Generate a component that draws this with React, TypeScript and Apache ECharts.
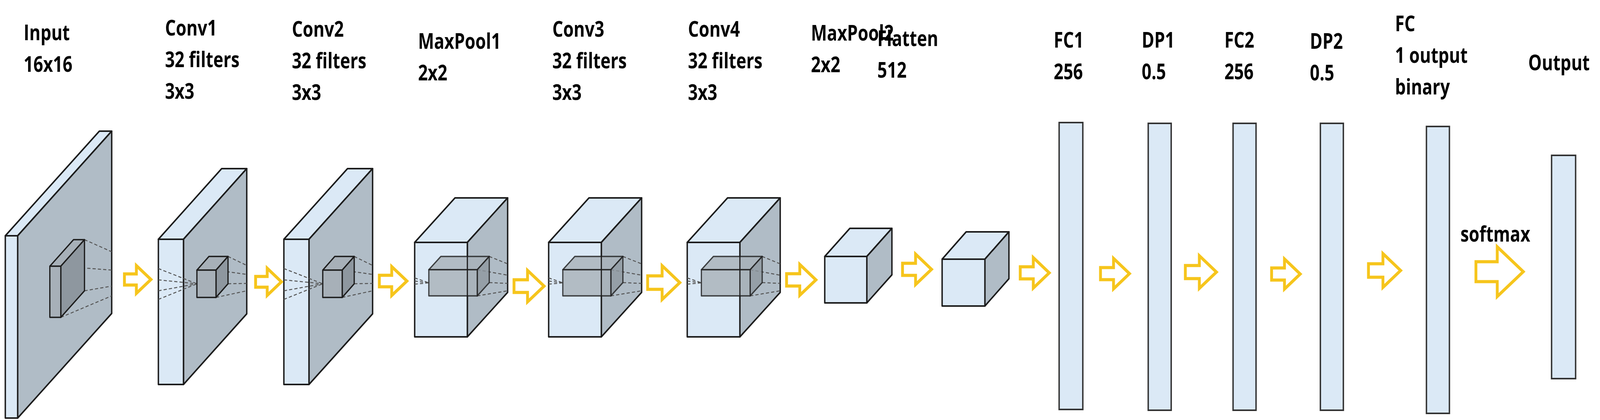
import React, { useEffect, useRef } from 'react';
import * as echarts from 'echarts';

// layer labels (text lines) and label anchors
const labelLines: string[][] = [
  ['Input', '16x16'],
  ['Conv1', '32 filters', '3x3'],
  ['Conv2', '32 filters', '3x3'],
  ['MaxPool1', '2x2'],
  ['Conv3', '32 filters', '3x3'],
  ['Conv4', '32 filters', '3x3'],
  ['MaxPool2', '2x2'],
  ['Flatten', '512'],
  ['FC1', '256'],
  ['DP1', '0.5'],
  ['FC2', '256'],
  ['DP2', '0.5'],
  ['FC', '1 output', 'binary'],
  ['Output'],
];
const labelX = [67, 467, 826, 1183, 1563, 1947, 2295, 2483, 2982, 3231, 3465, 3707, 3948, 4325];
const labelY0 = [81, 69, 72, 103, 72, 72, 82, 96, 100, 100, 100, 103, 58, 158];
const lineGap = 81;

// 3D blocks: front rect x, y, w, h and depth dx, dy
const blocks = [
  { x: 15, y: 604, w: 35, h: 467, dx: 266, dy: 268, k: { x: 141, y: 682, w: 31, h: 131, dx: 67, dy: 68 }, inner: false, left: [] as number[], right: [645, 692, 733, 758] },
  { x: 448, y: 613, w: 71, h: 372, dx: 179, dy: 181, k: { x: 557, y: 692, w: 54, h: 70, dx: 34, dy: 35 }, inner: false, left: [688, 717, 745, 767], right: [680, 703, 726, 745] },
  { x: 803, y: 613, w: 71, h: 372, dx: 180, dy: 181, k: { x: 913, y: 692, w: 55, h: 70, dx: 34, dy: 35 }, inner: false, left: [688, 717, 745, 767], right: [680, 703, 726, 745] },
  { x: 1173, y: 621, w: 149, h: 242, dx: 114, dy: 114, k: { x: 1213, y: 691, w: 137, h: 67, dx: 34, dy: 34 }, inner: true, left: [712, 720, 728], right: [676, 705, 726, 745] },
  { x: 1552, y: 621, w: 149, h: 242, dx: 114, dy: 114, k: { x: 1592, y: 691, w: 136, h: 67, dx: 34, dy: 34 }, inner: true, left: [712, 720, 728], right: [676, 705, 726, 745] },
  { x: 1944, y: 621, w: 149, h: 242, dx: 114, dy: 114, k: { x: 1984, y: 691, w: 138, h: 67, dx: 34, dy: 34 }, inner: true, left: [712, 720, 728], right: [676, 705, 726, 745] },
  { x: 2333, y: 657, w: 119, h: 119, dx: 71, dy: 72, k: null, inner: false, left: [], right: [] },
  { x: 2665, y: 664, w: 121, h: 120, dx: 68, dy: 70, k: null, inner: false, left: [], right: [] },
];

// dense layer bars
const bars = [
  { x: 2996, y: 314, w: 67, h: 735 },
  { x: 3248, y: 316, w: 65, h: 735 },
  { x: 3488, y: 316, w: 65, h: 735 },
  { x: 3735, y: 316, w: 65, h: 735 },
  { x: 4035, y: 324, w: 65, h: 735 },
  { x: 4389, y: 398, w: 68, h: 572 },
];

// arrows: left x, right x, center y
const arrows: [number, number, number][] = [
  [352, 427, 716], [723, 796, 722], [1073, 1151, 720], [1454, 1539, 733],
  [1832, 1923, 724], [2225, 2308, 717], [2553, 2635, 690], [2886, 2968, 699],
  [3113, 3195, 701], [3353, 3441, 697], [3597, 3678, 702], [3871, 3962, 693],
  [4175, 4309, 696],
];

const LIGHT = '#dbe9f6';
const GRAY = '#b0bcc6';
const KFRONT = '#a7b0b8';
const KSIDE = '#8e979f';
const EDGE = '#1c1c1c';
const YELLOW = '#f6c51c';
const FONT = '"Liberation Sans Narrow", "Open Sans", "Noto Sans", sans-serif';

function cube(b: any, cols: string[], opacity = 1, lw = 4): any[] {
  const { x, y, w, h, dx, dy } = b;
  const st = (fill: string) => ({ fill, stroke: EDGE, lineWidth: lw, opacity, lineJoin: 'round' });
  return [
    { type: 'polygon', shape: { points: [[x, y], [x + w, y], [x + w + dx, y - dy], [x + dx, y - dy]] }, style: st(cols[1]) },
    { type: 'polygon', shape: { points: [[x + w, y], [x + w + dx, y - dy], [x + w + dx, y + h - dy], [x + w, y + h]] }, style: st(cols[2]) },
    { type: 'rect', shape: { x, y, width: w, height: h }, style: st(cols[0]) },
  ];
}

function arrowShape(x0: number, x1: number, cy: number): any {
  const w = x1 - x0;
  const h = w * 0.95;
  const sx = x0 + w * 0.45;
  const sh = h * 0.2;
  return {
    type: 'polygon',
    shape: { points: [[x0, cy - sh], [sx, cy - sh], [sx, cy - h / 2], [x1, cy], [sx, cy + h / 2], [sx, cy + sh], [x0, cy + sh]] },
    style: { fill: '#fff', stroke: YELLOW, lineWidth: 8, lineJoin: 'miter' },
  };
}

function label(t: string, x: number, y: number): any {
  return {
    type: 'text', x, y, scaleX: 0.86,
    style: { text: t, fill: '#000', font: `bold 56px ${FONT}`, textAlign: 'left', textVerticalAlign: 'middle' },
  };
}

const App: React.FC = () => {
  const chartRef = useRef<HTMLDivElement | null>(null);

  useEffect(() => {
    document.body.style.margin = '0';
    if (!chartRef.current) return;
    const chart = echarts.init(chartRef.current, null, { renderer: 'svg' });
    const els: any[] = [];
    const dash = { stroke: '#555', lineWidth: 2.5, lineDash: [9, 6] };

    blocks.forEach((b) => {
      els.push(...cube(b, [LIGHT, LIGHT, GRAY]));
      if (b.k) {
        const k = b.k;
        const ex = b.x + b.w + b.dx;
        const starts = [
          [k.x + k.w + k.dx, k.y - k.dy],
          [k.x + k.w, k.y],
          [k.x + k.w + k.dx, k.y + k.h - k.dy],
          [k.x + k.w, k.y + k.h],
        ];
        b.right.forEach((ty, i) => {
          els.push({ type: 'line', shape: { x1: starts[i][0], y1: starts[i][1], x2: ex, y2: ty }, style: dash });
        });
        b.left.forEach((ty) => {
          els.push({ type: 'line', shape: { x1: b.x, y1: ty, x2: k.x, y2: k.y + k.h / 2 }, style: dash });
        });
        els.push(...cube(k, [KFRONT, KFRONT, KSIDE], b.inner ? 0.8 : 1, 3.5));
        if (b.inner) {
          els.push({ type: 'line', shape: { x1: b.x + b.w, y1: b.y, x2: b.x + b.w, y2: b.y + b.h }, style: { stroke: EDGE, lineWidth: 3 } });
        }
      }
    });

    bars.forEach((r) => {
      els.push({ type: 'rect', shape: { x: r.x, y: r.y, width: r.w, height: r.h }, style: { fill: LIGHT, stroke: '#333', lineWidth: 4 } });
    });

    arrows.forEach(([a, b, c]) => els.push(arrowShape(a, b, c)));

    labelLines.forEach((lines, i) => {
      lines.forEach((t, j) => els.push(label(t, labelX[i], labelY0[i] + j * lineGap)));
    });
    els.push(label('softmax', 4133, 597));

    const sx = chart.getWidth() / 4528;
    const sy = chart.getHeight() / 1076;
    chart.setOption({
      animation: false,
      backgroundColor: '#fff',
      graphic: { elements: [{ type: 'group', x: 0, y: 0, scaleX: sx, scaleY: sy, children: els }] },
    });
    return () => chart.dispose();
  }, []);

  return <div ref={chartRef} style={{ width: '100vw', height: '100vh' }} />;
};

export default App;
